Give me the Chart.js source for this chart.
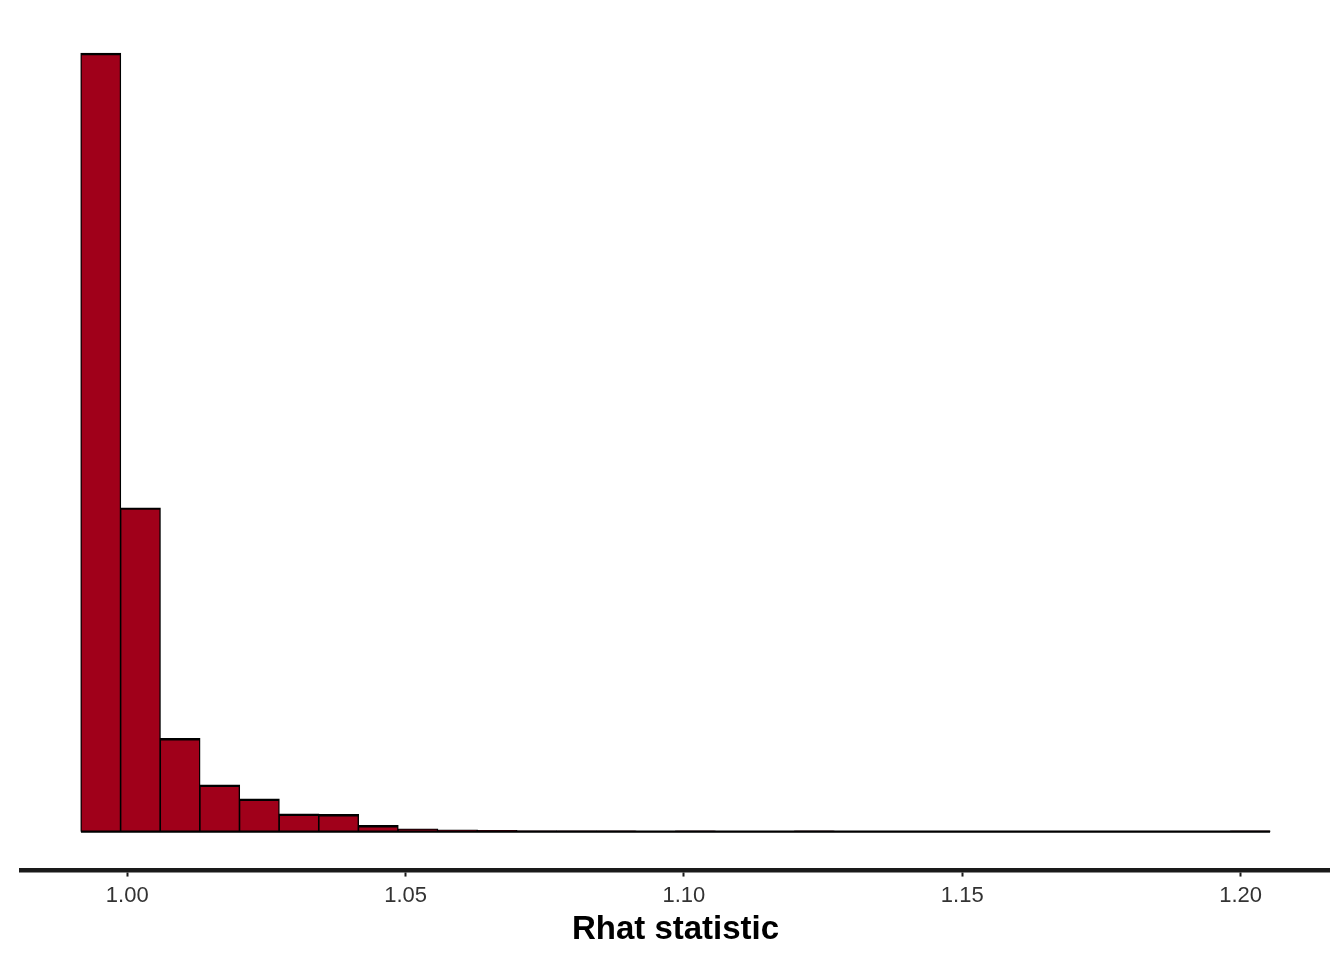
<!DOCTYPE html>
<html>
<head>
<meta charset="utf-8">
<script src="https://cdn.jsdelivr.net/npm/chart.js@4/dist/chart.umd.min.js"></script>
<style>
html,body{margin:0;padding:0;background:#fff}
#wrap{width:1344px;height:960px}
</style>
</head>
<body>
<div id="wrap"><canvas id="c"></canvas></div>
<script>
// histogram bins (30 bins), counts
const binStart = 0.99169
const binWidth = 0.00712
const binCounts = [1556, 647, 186, 93, 65, 35, 34, 12, 5, 3, 2, 1, 1, 1, 0,
                   1, 0, 0, 1, 0, 0, 0, 0, 0, 0, 0, 0, 0, 0, 1]
const tickVals = [1.00, 1.05, 1.10, 1.15, 1.20]
const xTitle = 'Rhat statistic'

const binEnd = binStart + binWidth*binCounts.length
const bars = binCounts.map((c,i)=>({x: binStart + binWidth*(i+0.5), y: c}))
const maxCount = Math.max(...binCounts)
// ggplot style 5% expansion on both axes
const xPad = (binEnd - binStart)*0.05
const yPad = maxCount*0.05

new Chart(document.getElementById('c'), {
  data:{
    datasets:[
      {type:'line', data:[{x:binStart,y:0},{x:binEnd,y:0}], borderColor:'#000', borderWidth:2.4,
       pointRadius:0, order:0},
      {type:'bar', data:bars, backgroundColor:'#a0001a', borderColor:'#000',
       borderWidth:{top:2.4,left:1.4,right:1.4,bottom:0}, borderSkipped:'bottom',
       barPercentage:1, categoryPercentage:1, inflateAmount:0.6, order:1}
    ]
  },
  options:{
    responsive:true, maintainAspectRatio:false, animation:false,
    layout:{padding:{left:21.5, right:14.5, top:14.5, bottom:16}},
    plugins:{legend:{display:false}, tooltip:{enabled:false}},
    scales:{
      x:{
        type:'linear', offset:false, min:binStart - xPad, max:binEnd + xPad,
        afterBuildTicks:(s)=>{ s.ticks = tickVals.map(v=>({value:v})) },
        ticks:{color:'#333', font:{family:'Liberation Sans, Arial', size:22}, padding:6.5,
               callback:(v)=>v.toFixed(2), maxRotation:0, autoSkip:false},
        grid:{offset:false, drawOnChartArea:false, drawTicks:true, tickLength:6, tickWidth:2, tickColor:'#1a1a1a'},
        border:{display:true, color:'#1a1a1a', width:4.5},
        title:{display:true, text:xTitle, color:'#000',
               font:{family:'Liberation Sans, Arial', size:33, weight:'bold', lineHeight:0.85}, padding:{top:0,bottom:0}}
      },
      y:{
        display:false, min:-yPad, max:maxCount + yPad
      }
    }
  }
})
</script>
</body>
</html>
